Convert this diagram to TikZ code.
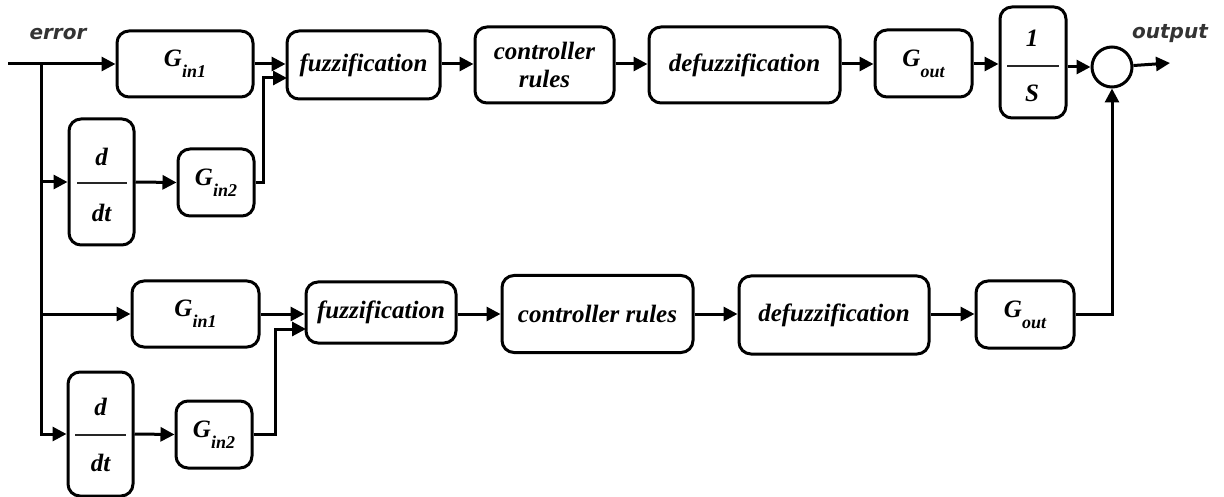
\documentclass[tikz,border=0pt]{standalone}
\usepackage{fontspec}
\setmainfont{Liberation Serif}
\newfontfamily\lblfont{DejaVu Sans}
\usetikzlibrary{arrows.meta}
\newcommand{\Gsb}[1]{G\raisebox{-11pt}{\fontsize{18}{18}\selectfont #1}}
\begin{document}
\begin{tikzpicture}[x=1pt,y=-1pt,
  blk/.style={draw, line width=3pt, rounded corners=12pt, inner sep=0pt,
    font=\fontsize{25}{28}\selectfont\bfseries\itshape, align=center},
  txt/.style={inner sep=0pt, font=\fontsize{25}{28}\selectfont\bfseries\itshape},
  conn/.style={line width=3pt, -{Triangle[length=14pt,width=14pt]}},
  frac/.style={line width=1.5pt, black!85},
  lbl/.style={font=\lblfont\fontsize{20}{22}\selectfont\bfseries\itshape, text=black!80, inner sep=0pt}]
\useasboundingbox (0,0) rectangle (1224,497);
% top row
\node[blk, minimum width=136pt, minimum height=66pt] (gi1a) at (185,64) {\Gsb{in1}};
\node[blk, minimum width=153pt, minimum height=68pt] (fza) at (363.5,65) {fuzzification};
\node[blk, minimum width=139pt, minimum height=76pt] (cra) at (544.5,65) {controller\\rules};
\node[blk, minimum width=191pt, minimum height=76pt] (dfa) at (744.5,65) {defuzzification};
\node[blk, minimum width=97pt, minimum height=67pt] (goa) at (923.5,63.5) {\Gsb{out}};
\node[blk, minimum width=66pt, minimum height=111pt] (isa) at (1033,62.5) {};
\node[txt] (isa1) at (1032,38) {1};
\node[txt] (isa2) at (1032,93) {S};
\draw[frac] (1007,66) -- (1059,66);
\node[draw, circle, line width=3pt, minimum size=40pt, inner sep=0pt] (sum) at (1112,67) {};
\coordinate (outc) at (1170,63);
\node[blk, minimum width=65pt, minimum height=126pt] (dda) at (101.5,182) {};
\node[txt] (dda1) at (101.5,157) {d};
\node[txt] (dda2) at (101.5,213) {dt};
\draw[frac] (77,183) -- (127,183);
\node[blk, minimum width=76pt, minimum height=67pt] (gi2a) at (216,182.5) {\Gsb{in2}};
% bottom row
\node[blk, minimum width=127pt, minimum height=66pt] (gi1b) at (195.5,314) {\Gsb{in1}};
\node[blk, minimum width=150pt, minimum height=61pt] (fzb) at (381,312.5) {fuzzification};
\node[blk, minimum width=191pt, minimum height=77pt] (crb) at (597.5,314) {controller rules};
\node[blk, minimum width=190pt, minimum height=78pt] (dfb) at (834,315) {defuzzification};
\node[blk, minimum width=98pt, minimum height=67pt] (gob) at (1025,314.5) {\Gsb{out}};
\node[blk, minimum width=65pt, minimum height=124pt] (ddb) at (100.5,434) {};
\node[txt] (ddb1) at (100.5,407) {d};
\node[txt] (ddb2) at (100.5,463) {dt};
\draw[frac] (75,435) -- (126,435);
\node[blk, minimum width=76pt, minimum height=67pt] (gi2b) at (214,434.5) {\Gsb{in2}};
% labels
\node[lbl] (err) at (58,34) {error};
\node[lbl] (outl) at (1170,34) {output};
% connectors
\coordinate (start) at (8,64);
\coordinate (jt) at (41,64);
\draw[conn] (start) -- (gi1a.west);
\draw[conn] (jt) |- (ddb.west);
\draw[conn] (jt |- dda.west) -- (dda.west);
\draw[conn] (jt |- gi1b.west) -- (gi1b.west);
\draw[conn] (dda.east) -- (gi2a.west);
\draw[conn] (ddb.east) -- (gi2b.west);
\coordinate (fa2) at (287,78);
\coordinate (fb2) at (306,329);
\draw[conn] (gi1a.east) -- (gi1a.east -| fza.west);
\draw[conn] (gi2a.east) -| (263,78) -- (fa2);
\draw[conn] (gi1b.east) -- (gi1b.east -| fzb.west);
\draw[conn] (gi2b.east) -| (275,329) -- (fb2);
\draw[conn] (fza.east |- gi1a.east) -- (cra.west |- gi1a.east);
\draw[conn] (cra.east |- gi1a.east) -- (dfa.west |- gi1a.east);
\draw[conn] (dfa.east |- gi1a.east) -- (goa.west |- gi1a.east);
\draw[conn] (goa.east |- gi1a.east) -- (isa.west |- gi1a.east);
\draw[conn] (isa.east |- sum.west) -- (sum.west);
\draw[conn] (sum) -- (outc);
\draw[conn] (fzb.east |- gi1b.east) -- (crb.west |- gi1b.east);
\draw[conn] (crb.east |- gi1b.east) -- (dfb.west |- gi1b.east);
\draw[conn] (dfb.east |- gi1b.east) -- (gob.west |- gi1b.east);
\draw[conn] (gob.east) -| (sum.south);
\end{tikzpicture}
\end{document}
